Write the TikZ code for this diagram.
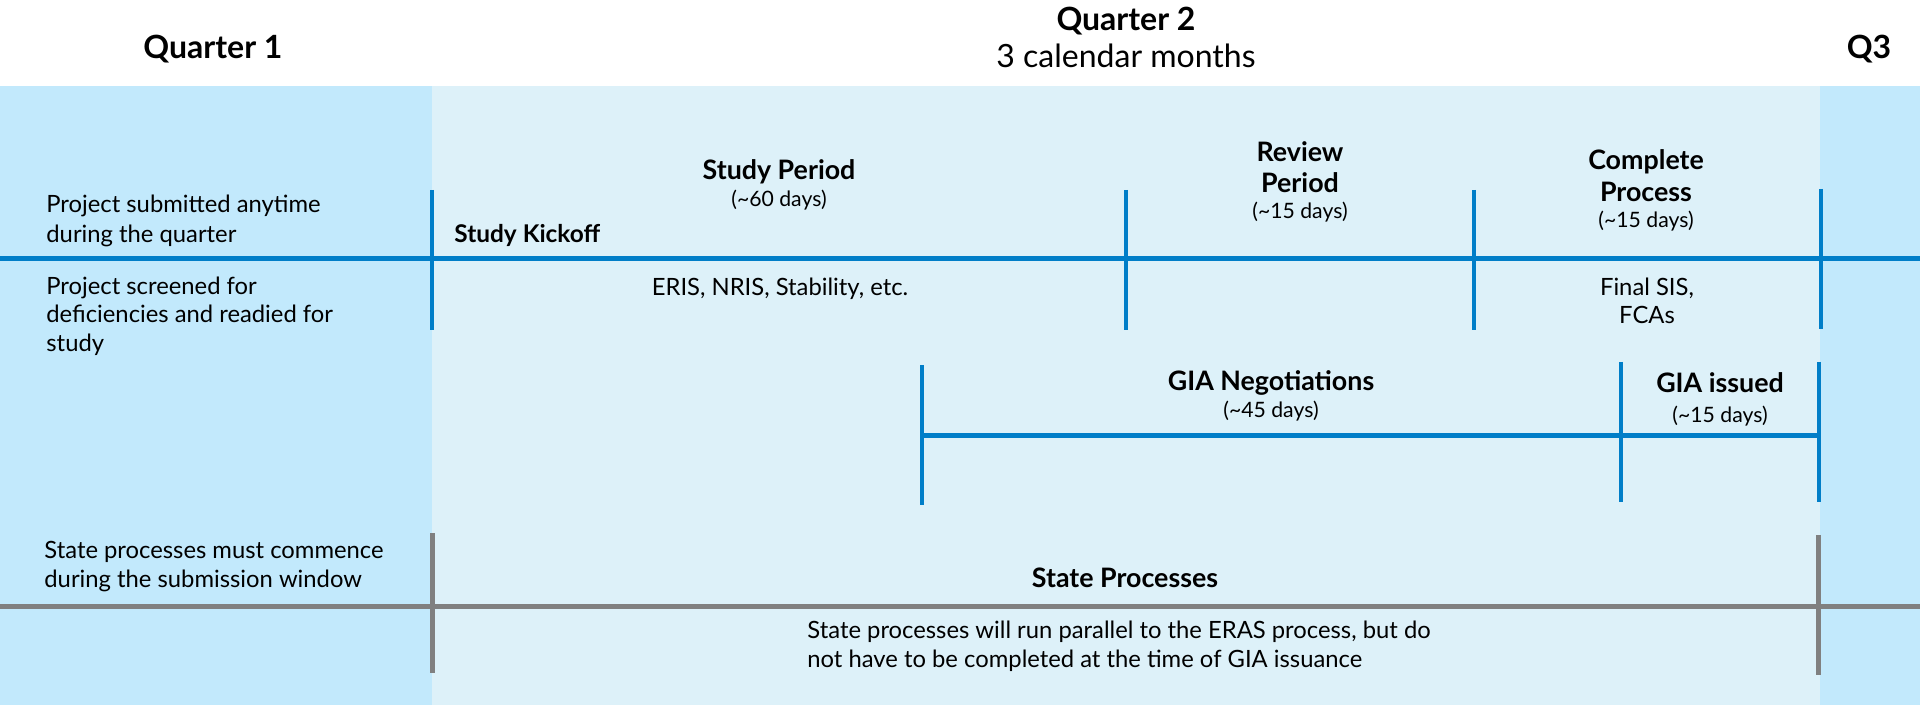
\documentclass[tikz,border=0pt]{standalone}
\usepackage{fontspec}
\setmainfont{Lato}
\definecolor{qouter}{RGB}{194,233,252}
\definecolor{qinner}{RGB}{221,241,249}
\definecolor{tlblue}{RGB}{0,126,200}
\definecolor{tlgray}{RGB}{128,128,128}
\newcommand{\tld}{{\char"007E}}
\tikzset{
  body/.style={inner sep=0pt, font=\fontsize{11.9}{13}\selectfont, text=black},
  bodyl/.style={body, anchor=base west},
  bodyc/.style={body, anchor=base},
  head/.style={inner sep=0pt, anchor=base, font=\fontsize{13.4}{15}\bfseries\selectfont},
  kickoff/.style={inner sep=0pt, anchor=base west, font=\fontsize{12.2}{14}\bfseries\selectfont},
  small/.style={inner sep=0pt, anchor=base, font=\fontsize{10.6}{12}\selectfont},
  qhead/.style={inner sep=0pt, anchor=base, font=\fontsize{16}{18}\bfseries\selectfont},
  qsub/.style={inner sep=0pt, anchor=base, font=\fontsize{16}{18}\selectfont},
  bline/.style={draw=tlblue, line width=2.5pt},
  btick/.style={draw=tlblue, line width=2.2pt},
  gline/.style={draw=tlgray, line width=2.5pt},
}
\begin{document}
\begin{tikzpicture}[x=0.5pt,y=-0.5pt]
\useasboundingbox (0,0) rectangle (1920,705);
% quarter bands
\fill[qouter] (0,86) rectangle (432,705);
\fill[qinner] (432,86) rectangle (1820,705);
\fill[qouter] (1820,86) rectangle (1920,705);

% quarter headings
\node[qhead] (q1) at (213,59) {Quarter 1};
\node[qhead] (q2) at (1126,31) {Quarter 2};
\node[qsub]  (q2sub) at (1126,68) {3 calendar months};
\node[qhead] (q3) at (1869,59) {Q3};

% main study timeline
\coordinate (mL) at (0,259);
\coordinate (mR) at (1920,259);
\coordinate (t1a) at (432,190); \coordinate (t1b) at (432,330);
\coordinate (t2a) at (1126,190); \coordinate (t2b) at (1126,330);
\coordinate (t3a) at (1474,190); \coordinate (t3b) at (1474,330);
\coordinate (t4a) at (1821,189); \coordinate (t4b) at (1821,329);
\draw[bline] (mL) -- (mR);
\draw[btick] (t1a) -- (t1b);
\draw[btick] (t2a) -- (t2b);
\draw[btick] (t3a) -- (t3b);
\draw[btick] (t4a) -- (t4b);

% GIA timeline
\coordinate (g1a) at (922,365); \coordinate (g1b) at (922,505);
\coordinate (g2a) at (1621,362); \coordinate (g2b) at (1621,502);
\coordinate (g3a) at (1819,362); \coordinate (g3b) at (1819,502);
\coordinate (gL) at (922,435); \coordinate (gR) at (1819,435);
\draw[bline] (gL) -- (gR);
\draw[btick] (g1a) -- (g1b);
\draw[btick] (g2a) -- (g2b);
\draw[btick] (g3a) -- (g3b);

% state process timeline
\coordinate (sL) at (0,606);
\coordinate (sR) at (1920,606);
\coordinate (s1a) at (432,533); \coordinate (s1b) at (432,673);
\coordinate (s2a) at (1818,535); \coordinate (s2b) at (1818,675);
\draw[gline] (sL) -- (sR);
\draw[gline] (s1a) -- (s1b);
\draw[gline] (s2a) -- (s2b);

% left column notes
\node[bodyl] (n1a) at (46,213) {Project submitted anytime};
\node[bodyl] (n1b) at (46,243) {during the quarter};
\node[bodyl] (n2a) at (46,295) {Project screened for};
\node[bodyl] (n2b) at (46,323) {deficiencies and readied for};
\node[bodyl] (n2c) at (46,351) {study};
\node[bodyl] (n3a) at (44,558) {State processes must commence};
\node[bodyl] (n3b) at (44,587) {during the submission window};

% study timeline labels
\node[kickoff] (kick) at (454,243) {Study Kickoff};
\node[head] (sp) at (779,180) {Study Period};
\node[small] (spd) at (779,207) {(\tld60 days)};
\node[bodyc] (spx) at (780,296) {ERIS, NRIS, Stability, etc.};
\node[head] (rp1) at (1300,162) {Review};
\node[head] (rp2) at (1300,193) {Period};
\node[small] (rpd) at (1300,219) {(\tld15 days)};
\node[head] (cp1) at (1646,170) {Complete};
\node[head] (cp2) at (1646,202) {Process};
\node[small] (cpd) at (1646,228) {(\tld15 days)};
\node[bodyc] (cpx1) at (1647,296) {Final SIS,};
\node[bodyc] (cpx2) at (1647,324) {FCAs};

% GIA labels
\node[head] (gn) at (1271,390) {GIA Negotiations};
\node[small] (gnd) at (1271,417) {(\tld45 days)};
\node[head] (gi) at (1720,393) {GIA issued};
\node[small] (gid) at (1720,422) {(\tld15 days)};

% state process labels
\node[head] (st) at (1125,587) {State Processes};
\node[bodyl] (stx1) at (807,638) {State processes will run parallel to the ERAS process, but do};
\node[bodyl] (stx2) at (807,667) {not have to be completed at the time of GIA issuance};
\end{tikzpicture}
\end{document}
